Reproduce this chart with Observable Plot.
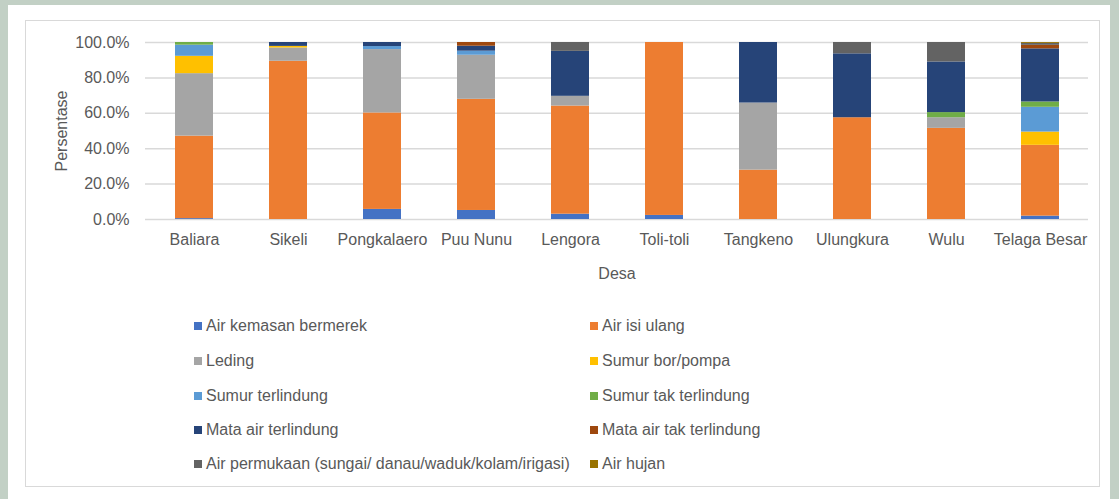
<!DOCTYPE html>
<html>
<head>
<meta charset="utf-8">
<script src="https://cdn.jsdelivr.net/npm/d3@7"></script>
<script src="https://cdn.jsdelivr.net/npm/@observablehq/plot@0.6"></script>
<style>
  html, body { margin: 0; padding: 0; }
  body { width: 1119px; height: 499px; background: #c2d0c5; position: relative; overflow: hidden;
         font-family: "Liberation Sans", sans-serif; }
  #panel { position: absolute; left: 8px; top: 5px; width: 1102px; height: 520px; background: #fff; }
  #frame { position: absolute; left: 25px; top: 20px; width: 1075px; height: 467px; border: 1px solid #d9d9d9; box-sizing: border-box; }
  #chart { position: absolute; left: 0; top: 0; }
  #legend { position: absolute; left: 0; top: 0; }
  .item { position: absolute; display: flex; align-items: center; font-size: 16px; color: #595959; white-space: nowrap; }
  .sw { width: 8px; height: 8px; margin-right: 4px; }
</style>
</head>
<body>
<div id="panel"></div>
<div id="frame"></div>
<div id="chart"></div>
<div id="legend"></div>
<script>
const desa = ["Baliara", "Sikeli", "Pongkalaero", "Puu Nunu", "Lengora", "Toli-toli", "Tangkeno", "Ulungkura", "Wulu", "Telaga Besar"];
const sumber = [
  "Air kemasan bermerek", "Air isi ulang", "Leding", "Sumur bor/pompa", "Sumur terlindung",
  "Sumur tak terlindung", "Mata air terlindung", "Mata air tak terlindung",
  "Air permukaan (sungai/ danau/waduk/kolam/irigasi)", "Air hujan"
];
const warna = ["#4472c4", "#ed7d31", "#a5a5a5", "#ffc000", "#5b9bd5", "#70ad47", "#264478", "#9e480e", "#636363", "#997300"];

// percentages per desa (order of desa)
const airKemasan         = [0.5, 0,    5.7,  5.1,  3.0,  2.3,  0,    0,    0,    1.9];
const airIsiUlang        = [46.6, 89.4, 54.5, 62.8, 61.1, 97.7, 27.9, 57.5, 51.5, 40.0];
const leding             = [35.3, 7.5,  35.8, 24.9, 5.5,  0,    37.9, 0,    6.0,  0];
const sumurBor           = [9.8,  0.9,  0,    0,    0,    0,    0,    0,    0,    7.5];
const sumurTerlindung    = [6.3,  0,    1.7,  2.3,  0,    0,    0,    0,    0,    14.0];
const sumurTakTerlindung = [1.5,  0,    0,    0,    0,    0,    0,    0,    2.9,  3.0];
const mataAirTerlindung  = [0,    2.2,  2.3,  2.8,  25.4, 0,    34.2, 36.1, 28.6, 30.0];
const mataAirTak         = [0,    0,    0,    2.1,  0,    0,    0,    0,    0,    2.0];
const airPermukaan       = [0,    0,    0,    0,    5.0,  0,    0,    6.4,  11.0, 1.1];
const airHujan           = [0,    0,    0,    0,    0,    0,    0,    0,    0,    0.5];
const yTicks = [0, 0.2, 0.4, 0.6, 0.8, 1.0];

const nilai = [airKemasan, airIsiUlang, leding, sumurBor, sumurTerlindung, sumurTakTerlindung,
               mataAirTerlindung, mataAirTak, airPermukaan, airHujan];
const data = [];
sumber.forEach((s, i) => desa.forEach((d, j) => {
  if (nilai[i][j] > 0) data.push({desa: d, sumber: s, nilai: nilai[i][j] / 100});
}));

const font = '"Liberation Sans", sans-serif';
const chart = Plot.plot({
  width: 1119,
  height: 290,
  marginLeft: 145,
  marginRight: 31,
  marginTop: 42,
  marginBottom: 71,
  style: {fontFamily: font, fontSize: "16px", color: "#595959", background: "transparent", overflow: "visible"},
  x: {domain: desa, paddingInner: 0.6, paddingOuter: 0.3},
  y: {domain: [0, 1]},
  color: {domain: sumber, range: warna},
  marks: [
    Plot.gridY(yTicks, {stroke: "#d9d9d9", strokeOpacity: 1, strokeWidth: 1.5}),
    Plot.barY(data, {x: "desa", y: "nilai", fill: "sumber", order: sumber}),
    Plot.axisY(yTicks, {tickFormat: d3.format(".1%"), tickSize: 0, tickPadding: 16, fill: "#595959",
      label: "Persentase", labelAnchor: "center", labelArrow: "none", labelOffset: 90}),
    Plot.axisX({tickSize: 0, tickPadding: 14, fill: "#595959",
      label: "Desa", labelAnchor: "center", labelArrow: "none", labelOffset: 59})
  ]
});
document.getElementById("chart").appendChild(chart);

const legend = document.getElementById("legend");
const colX = [194, 590];
const rowY = [326, 361, 396, 430, 464];
sumber.forEach((s, i) => {
  const it = document.createElement("div");
  it.className = "item";
  it.style.left = colX[i % 2] + "px";
  it.style.top = (rowY[Math.floor(i / 2)] - 10) + "px";
  it.style.height = "20px";
  const sw = document.createElement("span");
  sw.className = "sw";
  sw.style.background = warna[i];
  const tx = document.createElement("span");
  tx.textContent = s;
  it.appendChild(sw);
  it.appendChild(tx);
  legend.appendChild(it);
});
</script>
</body>
</html>
